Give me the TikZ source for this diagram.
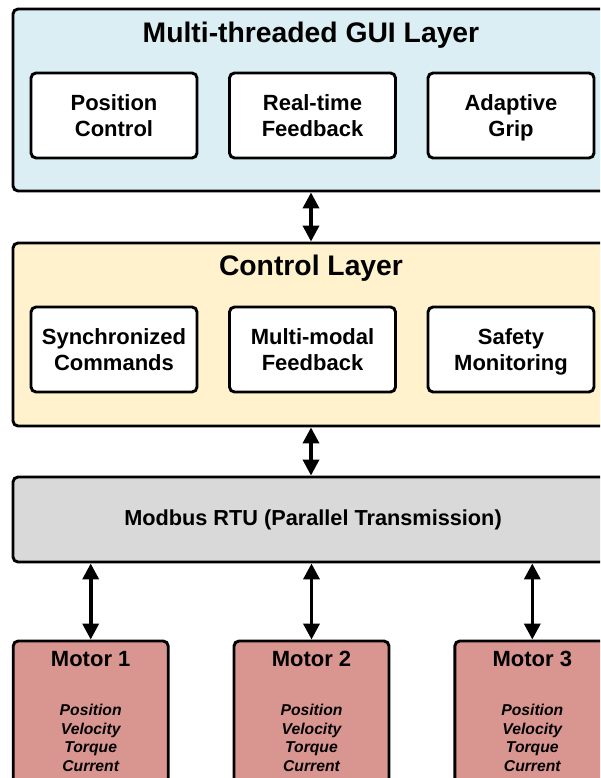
\documentclass[tikz,border=0pt]{standalone}
\usepackage{fontspec}
\setmainfont{Liberation Sans}
\usetikzlibrary{arrows.meta}
\definecolor{guiblue}{HTML}{DAEEF3}
\definecolor{ctrlcream}{HTML}{FFF2CC}
\definecolor{busgray}{HTML}{D9D9D9}
\definecolor{motorred}{HTML}{D9958F}
\tikzset{
  layerbox/.style={draw=black, line width=2.9pt, rounded corners=5pt, inner sep=0pt, minimum width=596pt},
  innerbox/.style={draw=black, fill=white, line width=2.9pt, rounded corners=5pt, inner sep=0pt,
    minimum width=166pt, minimum height=85pt, align=center, text height=42pt, text depth=0pt,
    font=\fontsize{22}{25.7}\selectfont\bfseries},
  motorbox/.style={draw=black, fill=motorred, line width=2.9pt, rounded corners=5pt, inner sep=0pt,
    minimum width=155pt, minimum height=175pt},
  titletext/.style={anchor=base, inner sep=0pt, font=\fontsize{28.3}{33}\selectfont\bfseries},
  bustext/.style={inner sep=0pt, font=\fontsize{21.7}{25}\selectfont\bfseries},
  motortitle/.style={anchor=base, inner sep=0pt, font=\fontsize{22}{25.7}\selectfont\bfseries},
  motoritem/.style={anchor=base, inner sep=0pt, font=\fontsize{15.7}{18.8}\selectfont\bfseries\itshape},
  biarrow/.style={line width=3.6pt, {Triangle[width=16pt,length=16pt]}-{Triangle[width=16pt,length=16pt]}}
}
\begin{document}
\begin{tikzpicture}[x=1pt,y=-1pt]
\useasboundingbox (0,0) rectangle (600,778);
\clip (0,0) rectangle (600,778);
\fill[white] (0,0) rectangle (600,778);

% GUI layer
\node[layerbox, fill=guiblue, minimum height=182pt] (gui) at (311,100) {};
\node[titletext] (guititle) at (311,42.3) {Multi-threaded GUI Layer};
\node[innerbox] (pos) at (114,115.5) {Position\\Control};
\node[innerbox] (rtf) at (312.5,115.5) {Real-time\\Feedback};
\node[innerbox] (grip) at (511,115.5) {Adaptive\\Grip};

% Control layer
\node[layerbox, fill=ctrlcream, minimum height=183pt] (ctrl) at (311,334.5) {};
\node[titletext] (ctrltitle) at (311,275.7) {Control Layer};
\node[innerbox] (sync) at (114,349.5) {Synchronized\\Commands};
\node[innerbox] (mmf) at (312.5,349.5) {Multi-modal\\Feedback};
\node[innerbox] (safe) at (511,349.5) {Safety\\Monitoring};

% Modbus
\node[layerbox, fill=busgray, minimum height=85pt] (bus) at (311,519.5) {};
\node[bustext] (bustitle) at (313,519.5) {Modbus RTU (Parallel Transmission)};

% Motors
\node[motorbox] (m1) at (90.7,728.5) {};
\node[motorbox] (m2) at (311.5,728.5) {};
\node[motorbox] (m3) at (532.3,728.5) {};
\foreach \m/\n in {m1/1, m2/2, m3/3} {
  \node[motortitle] (\m t) at (\m.center |- 0,666) {Motor \n};
  \node[motoritem] (\m a) at (\m.center |- 0,715) {Position};
  \node[motoritem] (\m b) at (\m.center |- 0,734) {Velocity};
  \node[motoritem] (\m c) at (\m.center |- 0,752.7) {Torque};
  \node[motoritem] (\m d) at (\m.center |- 0,771.3) {Current};
}

% Connectors
\draw[biarrow] (gui.south) -- (ctrl.north);
\draw[biarrow] (ctrl.south) -- (bus.north);
\draw[biarrow] (m1.north |- bus.south) -- (m1.north);
\draw[biarrow] (m2.north |- bus.south) -- (m2.north);
\draw[biarrow] (m3.north |- bus.south) -- (m3.north);
\end{tikzpicture}
\end{document}
